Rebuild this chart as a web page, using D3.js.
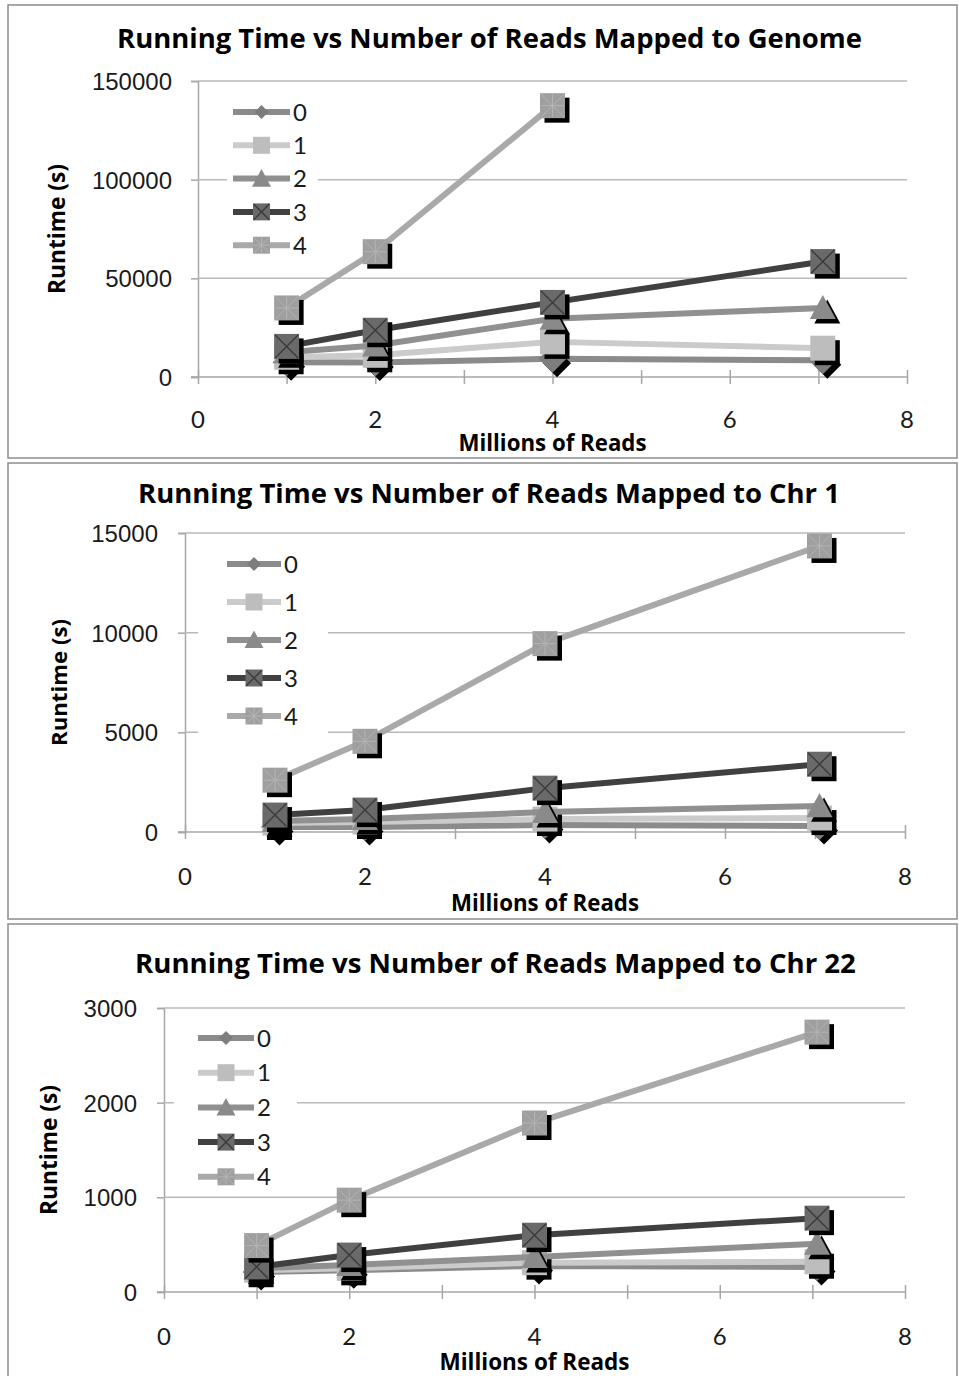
<!DOCTYPE html>
<html>
<head>
<meta charset="utf-8">
<script src="https://cdn.jsdelivr.net/npm/d3@7"></script>
<style>
  body { margin: 0; background: #fff; }
  svg { display: block; font-family: Lato, "Open Sans", sans-serif; }
  .bold { font-family: "Open Sans", Lato, sans-serif; font-weight: 700; }
</style>
</head>
<body>
<div id="chart"></div>
<script>
// x values (millions of reads) shared by all panels
const readsMillions = [1, 2, 4, 7.05];
const seriesNames = ["0", "1", "2", "3", "4"];
const xTicks = [0, 2, 4, 6, 8];

const panelTitles = [
  "Running Time vs Number of Reads Mapped to Genome",
  "Running Time vs Number of Reads Mapped to Chr 1",
  "Running Time vs Number of Reads Mapped to Chr 22"
];

// runtime (s), one row per series 0..4
const genomeRuntime = [
  [7500, 7400, 9200, 8500],
  [10000, 11000, 17800, 14600],
  [12600, 16000, 29500, 35000],
  [15500, 23700, 37800, 58500],
  [35000, 63500, 137500]
];
const chr1Runtime = [
  [250, 250, 350, 300],
  [450, 500, 650, 700],
  [550, 650, 1000, 1300],
  [850, 1100, 2200, 3400],
  [2600, 4550, 9450, 14350]
];
const chr22Runtime = [
  [210, 230, 275, 265],
  [230, 250, 310, 320],
  [250, 285, 370, 510],
  [265, 390, 600, 780],
  [490, 970, 1785, 2745]
];

const genomeYTicks = [0, 50000, 100000, 150000];
const chr1YTicks = [0, 5000, 10000, 15000];
const chr22YTicks = [0, 1000, 2000, 3000];

const W = 959, H = 1376;
const svg = d3.select("#chart").append("svg")
  .attr("width", W).attr("height", H)
  .attr("viewBox", [0, 0, W, H]);

// series look: line colour, marker type, marker fill
const styles = [
  { line: "#8b8b8b", fill: "#7d7d7d", shape: "diamond" },
  { line: "#cbcbcb", fill: "#bdbdbd", shape: "square" },
  { line: "#909090", fill: "#8a8a8a", shape: "triangle" },
  { line: "#404040", fill: "#6a6a6a", shape: "xsquare" },
  { line: "#a9a9a9", fill: "#9f9f9f", shape: "star" }
];

// scale a text's font so it spans about `w` pixels
function fitWidth(t, w) {
  const fs = +t.attr("font-size");
  const len = t.node().getComputedTextLength();
  if (len > 0) t.attr("font-size", (fs * w / len).toFixed(2));
  return t;
}

function markerPath(shape, s) {
  if (shape === "diamond") return `M0,${-s}L${s},0L0,${s}L${-s},0Z`;
  if (shape === "triangle") return `M0,${-s}L${s},${s * 0.85}L${-s},${s * 0.85}Z`;
  return `M${-s},${-s}H${s}V${s}H${-s}Z`;
}

function drawMarker(g, st, cx, cy, s, shadow) {
  const m = g.append("g").attr("transform", `translate(${cx},${cy})`);
  if (shadow) {
    m.append("path").attr("d", markerPath(st.shape, s))
      .attr("transform", "translate(4.5,4.5)").attr("fill", "#000");
  }
  m.append("path").attr("d", markerPath(st.shape, s)).attr("fill", st.fill);
  const k = s * 0.92;
  if (st.shape === "xsquare") {
    m.append("path").attr("d", `M${-k},${-k}L${k},${k}M${k},${-k}L${-k},${k}`)
      .attr("stroke", "#3a3a3a").attr("stroke-width", 1.4);
  }
  if (st.shape === "star") {
    m.append("path").attr("d", `M${-k},${-k}L${k},${k}M${k},${-k}L${-k},${k}M0,${-k}V${k}M${-k},0H${k}`)
      .attr("stroke", "#b4b4b4").attr("stroke-width", 1);
  }
}

const panels = [
  { data: genomeRuntime, yTicks: genomeYTicks, title: panelTitles[0],
    frame: [8, 5, 949, 453], plot: { l: 198, r: 907, t: 81, b: 377 },
    titleX: 489.5, titleY: 48, titleW: 745, yLabR: 172, xLabY: 428,
    xTitleY: 451, xTitleW: 188, yTitleX: 65, yTitleW: 130,
    legend: { x0: 233, x1: 290, y0: 112, dy: 33.3, box: [227, 92, 318, 268] } },
  { data: chr1Runtime, yTicks: chr1YTicks, title: panelTitles[1],
    frame: [8, 463, 949, 456], plot: { l: 185, r: 905, t: 533, b: 832 },
    titleX: 489, titleY: 503, titleW: 702, yLabR: 158, xLabY: 885,
    xTitleY: 911, xTitleW: 188, yTitleX: 67, yTitleW: 127,
    legend: { x0: 227, x1: 281, y0: 564, dy: 38, box: [198, 545, 328, 742] } },
  { data: chr22Runtime, yTicks: chr22YTicks, title: panelTitles[2],
    frame: [8, 924, 949, 470], plot: { l: 164, r: 905, t: 1008, b: 1292 },
    titleX: 495.5, titleY: 973, titleW: 721, yLabR: 137, xLabY: 1345,
    xTitleY: 1370, xTitleW: 190, yTitleX: 57, yTitleW: 130,
    legend: { x0: 198, x1: 254, y0: 1038, dy: 34.7, box: [174, 1020, 297, 1192] } }
];

panels.forEach(p => {
  const g = svg.append("g");
  const [fx, fy, fw, fh] = p.frame;
  g.append("rect").attr("x", fx).attr("y", fy).attr("width", fw).attr("height", fh)
    .attr("fill", "#fff").attr("stroke", "#8c8c8c").attr("stroke-width", 1.5);

  const x = d3.scaleLinear().domain([0, 8]).range([p.plot.l, p.plot.r]);
  const y = d3.scaleLinear().domain([0, d3.max(p.yTicks)]).range([p.plot.b, p.plot.t]);

  // y axis + gridlines
  const yAx = g.append("g").attr("transform", `translate(${p.plot.l},0)`)
    .call(d3.axisLeft(y).tickValues(p.yTicks).tickSize(7).tickFormat(d3.format("d")));
  yAx.select(".domain").attr("stroke", "#a6a6a6").attr("stroke-width", 1.5);
  yAx.selectAll(".tick line").attr("stroke", "#a6a6a6").attr("stroke-width", 1.5);
  yAx.selectAll(".tick text").attr("font-size", 24).attr("fill", "#1a1a1a")
    .attr("x", p.yLabR - p.plot.l).attr("dy", "0.36em");

  g.append("g").selectAll("line").data(p.yTicks.filter(d => d > 0)).join("line")
    .attr("x1", p.plot.l).attr("x2", p.plot.r)
    .attr("y1", d => y(d)).attr("y2", d => y(d))
    .attr("stroke", "#b9b9b9").attr("stroke-width", 1.5);

  // x axis with ticks at every unit
  const xAx = g.append("g").attr("transform", `translate(0,${p.plot.b})`)
    .call(d3.axisBottom(x).tickValues(d3.range(0, 9)).tickSize(7).tickFormat(""));
  xAx.select(".domain").remove();
  g.append("line").attr("x1", p.plot.l - 7).attr("x2", p.plot.r)
    .attr("y1", p.plot.b).attr("y2", p.plot.b)
    .attr("stroke", "#a6a6a6").attr("stroke-width", 1.5);
  xAx.selectAll(".tick line").attr("stroke", "#a6a6a6").attr("stroke-width", 1.5).attr("y1", -7);

  g.append("g").selectAll("text").data(xTicks).join("text")
    .attr("x", d => x(d)).attr("y", p.xLabY)
    .attr("text-anchor", "middle").attr("font-size", 24).attr("fill", "#1a1a1a")
    .text(d => d);

  // titles
  fitWidth(g.append("text").attr("class", "bold").attr("x", p.titleX).attr("y", p.titleY)
    .attr("text-anchor", "middle").attr("font-size", 24).text(p.title), p.titleW);
  fitWidth(g.append("text").attr("class", "bold").attr("x", (p.plot.l + p.plot.r) / 2).attr("y", p.xTitleY)
    .attr("text-anchor", "middle").attr("font-size", 20).text("Millions of Reads"), p.xTitleW);
  fitWidth(g.append("text").attr("class", "bold")
    .attr("transform", `translate(${p.yTitleX},${(p.plot.t + p.plot.b) / 2}) rotate(-90)`)
    .attr("text-anchor", "middle").attr("font-size", 20).text("Runtime (s)"), p.yTitleW);

  // legend box (covers gridlines)
  const lb = p.legend.box;
  g.append("rect").attr("x", lb[0]).attr("y", lb[1])
    .attr("width", lb[2] - lb[0]).attr("height", lb[3] - lb[1]).attr("fill", "#fff");

  // series: line, then shadowed markers
  const line = d3.line().x(d => x(d[0])).y(d => y(d[1]));
  p.data.forEach((vals, i) => {
    const st = styles[i];
    const pts = vals.map((v, j) => [readsMillions[j], v]);
    g.append("path").datum(pts).attr("d", line)
      .attr("fill", "none").attr("stroke", st.line).attr("stroke-width", 6)
      .attr("stroke-linejoin", "round");
    pts.forEach(d => {
      const s = st.shape === "diamond" ? 14 : st.shape === "triangle" ? 13 : 12.5;
      drawMarker(g, st, x(d[0]), y(d[1]), s, true);
    });
  });

  // legend entries
  seriesNames.forEach((name, i) => {
    const st = styles[i];
    const ly = p.legend.y0 + i * p.legend.dy;
    g.append("line").attr("x1", p.legend.x0).attr("x2", p.legend.x1)
      .attr("y1", ly).attr("y2", ly)
      .attr("stroke", st.line).attr("stroke-width", 6);
    const s = st.shape === "diamond" ? 7 : st.shape === "triangle" ? 9.5 : 8.5;
    drawMarker(g, st, (p.legend.x0 + p.legend.x1) / 2, ly, s, false);
    g.append("text").attr("x", p.legend.x1 + 3).attr("y", ly).attr("dy", "0.36em")
      .attr("font-size", 24).attr("fill", "#1a1a1a").text(name);
  });
});
</script>
</body>
</html>
